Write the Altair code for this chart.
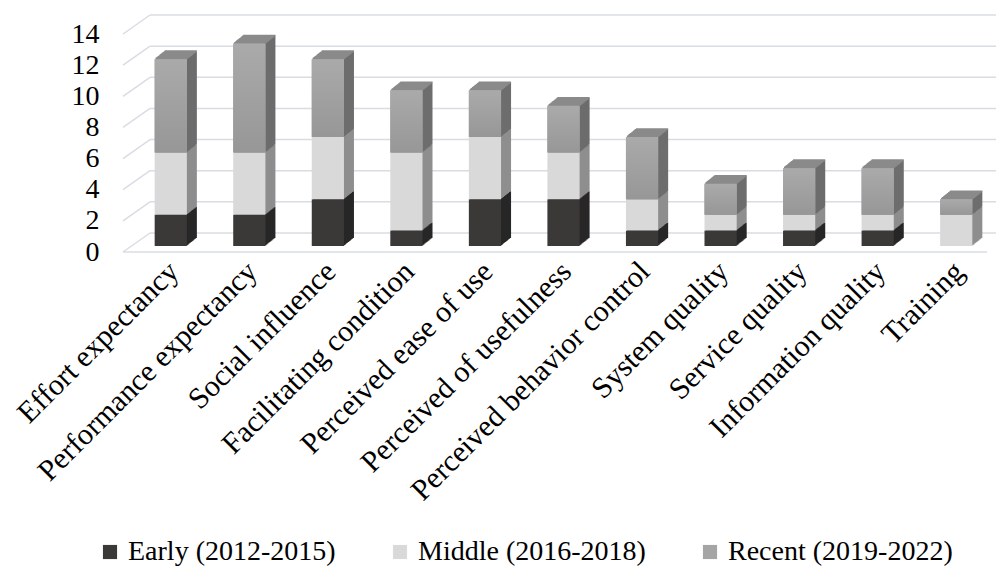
import altair as alt
import pandas as pd

categories = ["Effort expectancy", "Performance expectancy", "Social influence",
              "Facilitating condition", "Perceived ease of use", "Perceived of usefulness",
              "Perceived behavior control", "System quality", "Service quality",
              "Information quality", "Training"]
early = [2, 2, 3, 1, 3, 3, 1, 1, 1, 1, 0]
middle = [4, 4, 4, 5, 4, 3, 2, 1, 1, 1, 2]
recent = [6, 7, 5, 4, 3, 3, 4, 2, 3, 3, 1]
series_names = ["Early (2012-2015)", "Middle (2016-2018)", "Recent (2019-2022)"]
y_ticks = [0, 2, 4, 6, 8, 10, 12, 14]

FONT = "Liberation Serif"
W, H = 864, 218
PI = 0.59
STEP = W / 11
BW = STEP * (1 - PI)
FX, FY = 8.5, -6          # front face offset inside the depth
DX, DY = 10, -8           # bar depth
BX, BY = 27, -19          # wall depth
GRID = "#d9dce3"

front_colors = ["#3b3838", "#d9d9d9", "#a5a5a5"]
side_colors = ["#282727", "#8e8e8e", "#6d6d6d"]
top_color = "#8a8a8a"

rows = []
for i, c in enumerate(categories):
    base = 0
    for s, vals in zip(series_names, [early, middle, recent]):
        rows.append({"cat": c, "series": s, "start": base, "end": base + vals[i]})
        base += vals[i]
long = pd.DataFrame(rows)
totals = pd.DataFrame({"cat": categories,
                       "total": [a + b + c for a, b, c in zip(early, middle, recent)]})
grid = pd.DataFrame({"v": y_ticks})

yscale = alt.Scale(domain=[0, 14], nice=False)
xscale = alt.Scale(domain=categories, paddingInner=PI, paddingOuter=PI / 2)
x_axis = alt.Axis(labelAngle=-45, domain=False, ticks=False, grid=False, labelFont=FONT,
                  labelFontSize=30, labelColor="#000000", labelOffset=1,
                  labelPadding=4, labelLimit=500, title=None)
y_axis = alt.Axis(values=y_ticks, grid=False, domain=False, ticks=False,
                  labelFont=FONT, labelFontSize=28, labelColor="#000000",
                  labelPadding=24, title=None)
X = alt.X("cat:N", scale=xscale, sort=categories, title=None, axis=x_axis)


def Y(f):
    return alt.Y(f, scale=yscale, title=None, axis=y_axis)


back = alt.Chart(grid).mark_rule(color=GRID, strokeWidth=1.5, yOffset=BY).encode(
    y=Y("v:Q"), x=alt.value(BX), x2=alt.value(W + BX))
diag = alt.Chart(grid).mark_rule(color=GRID, strokeWidth=1.5, y2Offset=BY).encode(
    y=Y("v:Q"), y2="v:Q", x=alt.value(0), x2=alt.value(BX))
floor = alt.Chart(grid).transform_filter("datum.v == 0").mark_rule(
    color=GRID, strokeWidth=1.5).encode(y=Y("v:Q"), x=alt.value(0), x2=alt.value(W))

layers = [back, diag, floor]
for k in range(DX, 0, -1):
    oy = FY + DY * k / DX
    layers.append(alt.Chart(long).mark_bar(
        xOffset=FX + k, x2Offset=FX + k, yOffset=oy, y2Offset=oy).encode(
        x=X, y=Y("start:Q"), y2="end:Q",
        color=alt.Color("series:N", scale=alt.Scale(domain=series_names, range=side_colors),
                        legend=None)))
for k in range(1, DX + 1):
    oy = FY + DY * k / DX
    layers.append(alt.Chart(totals).mark_tick(
        orient="horizontal", size=BW, thickness=1.6, color=top_color, opacity=1,
        xOffset=FX + k, yOffset=oy).encode(x=X, y=Y("total:Q")))

front = alt.Chart(long).mark_bar(xOffset=FX, x2Offset=FX, yOffset=FY, y2Offset=FY).encode(
    x=X, y=Y("start:Q"), y2="end:Q",
    color=alt.Color("series:N", scale=alt.Scale(domain=series_names, range=front_colors),
                    title=None,
                    legend=alt.Legend(orient="none", legendX=-27, legendY=504,
                                      direction="horizontal", labelFont=FONT,
                                      labelFontSize=28, labelColor="#000000",
                                      labelLimit=500,
                                      symbolType="square", symbolSize=200,
                                      symbolStrokeWidth=0, columnPadding=50,
                                      labelOffset=4)))
grad = alt.Gradient(gradient="linear", x1=0, x2=0, y1=0, y2=1,
                    stops=[alt.GradientStop(offset=0, color="#aaaaaa"),
                           alt.GradientStop(offset=1, color="#979797")])
recent_front = alt.Chart(long).transform_filter(
    alt.datum.series == series_names[2]).mark_bar(
    xOffset=FX, x2Offset=FX, yOffset=FY, y2Offset=FY, color=grad).encode(
    x=X, y=Y("start:Q"), y2="end:Q")
layers += [front, recent_front]

chart = alt.layer(*layers).resolve_scale(color="independent").properties(
    width=W, height=H,
    autosize=alt.AutoSizeParams(type="none"),
    padding={"left": 115, "top": 26, "right": 9, "bottom": 316},
).configure_view(stroke=None)

chart.save("out.html", embed_options={"renderer": "svg", "actions": False})
